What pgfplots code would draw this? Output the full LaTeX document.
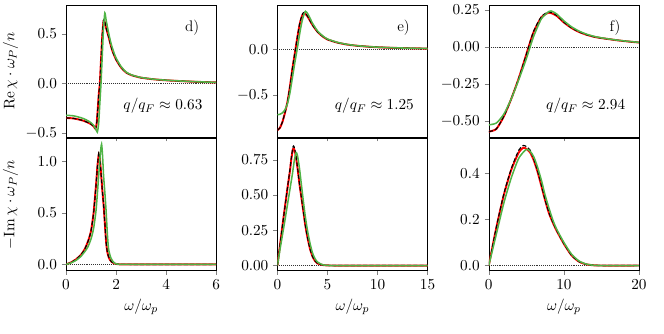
\documentclass[border=0pt]{standalone}
\usepackage{pgfplots}
\pgfplotsset{compat=1.18}
\usepgfplotslibrary{groupplots}
\usetikzlibrary{calc}

\definecolor{lgreen}{RGB}{80,180,70}

\pgfplotsset{
  zeroline/.style={black!80, densely dotted, line width=0.4pt, forget plot},
  redline/.style={red, line width=1.4pt, smooth, tension=0.4},
  blackline/.style={black, dashed, dash pattern=on 3pt off 1.5pt, line width=0.8pt, smooth, tension=0.4},
  greenline/.style={lgreen, line width=1.1pt, smooth, tension=0.4},
}

\begin{document}
\begin{tikzpicture}[font=\fontsize{11}{13}\selectfont]
\begin{groupplot}[
  group style={group size=3 by 2, horizontal sep=44pt, vertical sep=1pt, group name=G},
  scale only axis, width=108pt, height=95pt,
  tick align=outside, xtick pos=bottom, ytick pos=left,
  major tick length=3pt,
  tick label style={font=\fontsize{11}{13}\selectfont},
  label style={font=\fontsize{11}{13}\selectfont},
  yticklabel style={/pgf/number format/fixed, /pgf/number format/fixed zerofill, /pgf/number format/precision=1},
  ylabel style={at={(axis description cs:-0.37,0.5)}, anchor=center},
]

% ---- d) top
\nextgroupplot[xmin=0, xmax=6, ymin=-0.54, ymax=0.79, xtick={0,2,4,6}, xticklabels={},
  ytick={-0.5,0,0.5}, ylabel={$\mathrm{Re}\,\chi\cdot\omega_P/n$}]
\addplot[zeroline] coordinates {(0,0) (6,0)};
\addplot[redline] coordinates {(0,-0.347) (0.3,-0.352) (0.6,-0.368) (0.8,-0.385) (1.0,-0.41) (1.1,-0.43) (1.17,-0.455) (1.22,-0.41) (1.27,-0.25) (1.31,-0.1) (1.35,0.0) (1.4,0.25) (1.45,0.49) (1.5,0.63) (1.55,0.615) (1.6,0.56) (1.7,0.47) (1.75,0.42) (1.85,0.33) (2.0,0.24) (2.2,0.16) (2.4,0.11) (2.6,0.085) (2.8,0.07) (3.0,0.058) (3.5,0.042) (4.0,0.032) (4.5,0.025) (5.0,0.019) (5.5,0.014) (6,0.01)};
\addplot[blackline] coordinates {(0,-0.347) (0.3,-0.352) (0.6,-0.368) (0.8,-0.385) (1.0,-0.41) (1.1,-0.43) (1.17,-0.455) (1.22,-0.41) (1.27,-0.25) (1.31,-0.1) (1.35,0.0) (1.4,0.25) (1.45,0.5) (1.5,0.64) (1.55,0.62) (1.6,0.56) (1.7,0.47) (1.75,0.42) (1.85,0.33) (2.0,0.24) (2.2,0.16) (2.4,0.11) (2.6,0.085) (2.8,0.07) (3.0,0.058) (3.5,0.042) (4.0,0.032) (4.5,0.025) (5.0,0.019) (5.5,0.014) (6,0.01)};
\addplot[greenline] coordinates {(0,-0.32) (0.3,-0.326) (0.6,-0.345) (0.8,-0.365) (1.0,-0.395) (1.1,-0.42) (1.2,-0.465) (1.25,-0.49) (1.3,-0.41) (1.35,-0.2) (1.4,0.02) (1.45,0.3) (1.5,0.57) (1.55,0.71) (1.6,0.64) (1.7,0.51) (1.8,0.4) (1.9,0.32) (2.0,0.255) (2.2,0.17) (2.4,0.115) (2.6,0.088) (2.8,0.072) (3.0,0.06) (3.5,0.043) (4.0,0.033) (4.5,0.026) (5.0,0.02) (5.5,0.015) (6,0.011)};
\node at (rel axis cs:0.84,0.83) {d)};
\node at (rel axis cs:0.645,0.235) {$q/q_F\approx 0.63$};

% ---- e) top
\nextgroupplot[xmin=0, xmax=15, ymin=-0.967, ymax=0.49, xtick={0,5,10,15}, xticklabels={},
  ytick={-0.5,0}]
\addplot[zeroline] coordinates {(0,0) (15,0)};
\addplot[redline] coordinates {(0,-0.89) (0.25,-0.865) (0.5,-0.8) (0.75,-0.7) (1.0,-0.58) (1.25,-0.41) (1.5,-0.21) (1.8,0.0) (2.0,0.14) (2.25,0.29) (2.5,0.38) (2.7,0.40) (3.0,0.365) (3.5,0.27) (4.0,0.195) (4.5,0.145) (5,0.11) (6,0.075) (7,0.053) (8,0.04) (9,0.031) (10,0.024) (12,0.016) (15,0.009)};
\addplot[blackline] coordinates {(0,-0.89) (0.25,-0.865) (0.5,-0.8) (0.75,-0.7) (1.0,-0.58) (1.25,-0.41) (1.5,-0.21) (1.8,0.0) (2.0,0.14) (2.25,0.3) (2.5,0.39) (2.7,0.41) (3.0,0.37) (3.5,0.27) (4.0,0.195) (4.5,0.145) (5,0.11) (6,0.075) (7,0.053) (8,0.04) (9,0.031) (10,0.024) (12,0.016) (15,0.009)};
\addplot[greenline] coordinates {(0,-0.72) (0.25,-0.715) (0.5,-0.7) (0.75,-0.665) (1.0,-0.6) (1.25,-0.48) (1.5,-0.31) (1.75,-0.14) (2.0,0.02) (2.25,0.19) (2.5,0.33) (2.8,0.42) (3.1,0.38) (3.5,0.29) (4.0,0.205) (4.5,0.152) (5,0.115) (6,0.078) (7,0.055) (8,0.041) (9,0.032) (10,0.025) (12,0.017) (15,0.01)};
\node at (rel axis cs:0.84,0.83) {e)};
\node at (rel axis cs:0.645,0.235) {$q/q_F\approx 1.25$};

% ---- f) top
\nextgroupplot[xmin=0, xmax=20, ymin=-0.61, ymax=0.284, xtick={0,10,20}, xticklabels={},
  ytick={-0.5,-0.25,0,0.25},
  yticklabel style={/pgf/number format/precision=2}]
\addplot[zeroline] coordinates {(0,0) (20,0)};
\addplot[redline] coordinates {(0,-0.573) (1,-0.555) (2,-0.47) (3,-0.35) (4,-0.21) (5,-0.05) (5.3,0.0) (6,0.105) (7,0.2) (8,0.232) (9,0.212) (10,0.166) (11,0.129) (12,0.102) (13,0.083) (14,0.069) (15,0.06) (16,0.053) (17,0.046) (18,0.04) (19,0.035) (20,0.03)};
\addplot[blackline] coordinates {(0,-0.573) (1,-0.555) (2,-0.47) (3,-0.35) (4,-0.21) (5,-0.05) (5.3,0.0) (6,0.11) (7,0.205) (8,0.237) (9,0.215) (10,0.168) (11,0.13) (12,0.103) (13,0.083) (14,0.069) (15,0.06) (16,0.053) (17,0.046) (18,0.04) (19,0.035) (20,0.03)};
\addplot[greenline] coordinates {(0,-0.527) (1,-0.515) (2,-0.455) (3,-0.35) (4,-0.22) (5,-0.08) (5.5,0.0) (6,0.075) (7,0.19) (8,0.24) (8.3,0.244) (9,0.225) (10,0.177) (11,0.137) (12,0.108) (13,0.087) (14,0.072) (15,0.062) (16,0.054) (17,0.047) (18,0.041) (19,0.036) (20,0.031)};
\node at (rel axis cs:0.84,0.83) {f)};
\node at (rel axis cs:0.645,0.235) {$q/q_F\approx 2.94$};

% ---- d) bottom
\nextgroupplot[xmin=0, xmax=6, ymin=-0.06, ymax=1.225, xtick={0,2,4,6},
  ytick={0,0.5,1}, xlabel={$\omega/\omega_p$}, ylabel={$-\mathrm{Im}\,\chi\cdot\omega_P/n$}]
\addplot[zeroline] coordinates {(0,0) (6,0)};
\addplot[redline] coordinates {(0,0) (0.2,0.02) (0.4,0.05) (0.6,0.095) (0.75,0.15) (0.9,0.24) (1.0,0.33) (1.1,0.5) (1.2,0.78) (1.26,0.97) (1.31,1.07) (1.35,1.03) (1.4,0.88) (1.45,0.72) (1.5,0.58) (1.55,0.4) (1.6,0.22) (1.65,0.12) (1.72,0.06) (1.82,0.025) (1.95,0.008) (2.1,0.002) (2.5,0) (6,0)};
\addplot[blackline] coordinates {(0,0) (0.2,0.02) (0.4,0.05) (0.6,0.095) (0.75,0.15) (0.9,0.24) (1.0,0.33) (1.1,0.5) (1.2,0.78) (1.26,0.98) (1.31,1.09) (1.35,1.04) (1.4,0.88) (1.45,0.72) (1.5,0.58) (1.55,0.4) (1.6,0.22) (1.65,0.12) (1.72,0.06) (1.82,0.025) (1.95,0.008) (2.1,0.002) (2.5,0) (6,0)};
\addplot[greenline] coordinates {(0,0) (0.2,0.015) (0.4,0.04) (0.6,0.08) (0.85,0.16) (1.0,0.25) (1.1,0.35) (1.2,0.53) (1.3,0.85) (1.37,1.08) (1.42,1.17) (1.46,1.05) (1.5,0.86) (1.55,0.7) (1.6,0.52) (1.65,0.3) (1.7,0.15) (1.78,0.07) (1.87,0.03) (1.95,0.01) (2.1,0.002) (2.5,0) (6,0)};

% ---- e) bottom
\nextgroupplot[xmin=0, xmax=15, ymin=-0.036, ymax=0.90, xtick={0,5,10,15},
  ytick={0,0.25,0.5,0.75}, xlabel={$\omega/\omega_p$},
  yticklabel style={/pgf/number format/precision=2}]
\addplot[zeroline] coordinates {(0,0) (15,0)};
\addplot[redline] coordinates {(0,0) (0.25,0.14) (0.5,0.28) (0.75,0.415) (1.0,0.545) (1.25,0.67) (1.4,0.76) (1.55,0.825) (1.65,0.83) (1.8,0.79) (2.0,0.695) (2.2,0.58) (2.4,0.48) (2.6,0.38) (2.8,0.28) (3.0,0.2) (3.25,0.12) (3.5,0.065) (3.75,0.033) (4,0.015) (4.5,0.004) (5,0.001) (6,0) (15,0)};
\addplot[blackline] coordinates {(0,0) (0.25,0.14) (0.5,0.28) (0.75,0.415) (1.0,0.55) (1.25,0.68) (1.4,0.77) (1.55,0.84) (1.65,0.845) (1.8,0.8) (2.0,0.7) (2.2,0.58) (2.4,0.48) (2.6,0.38) (2.8,0.28) (3.0,0.2) (3.25,0.12) (3.5,0.065) (3.75,0.033) (4,0.015) (4.5,0.004) (5,0.001) (6,0) (15,0)};
\addplot[greenline] coordinates {(0,0) (0.25,0.11) (0.5,0.215) (0.75,0.32) (1.0,0.43) (1.25,0.54) (1.5,0.65) (1.7,0.75) (1.87,0.8) (2.0,0.78) (2.2,0.69) (2.4,0.57) (2.6,0.45) (2.8,0.34) (3.0,0.25) (3.25,0.16) (3.5,0.09) (3.75,0.05) (4,0.025) (4.5,0.006) (5,0.001) (6,0) (15,0)};

% ---- f) bottom
\nextgroupplot[xmin=0, xmax=20, ymin=-0.022, ymax=0.55, xtick={0,10,20},
  ytick={0,0.2,0.4}, xlabel={$\omega/\omega_p$}]
\addplot[zeroline] coordinates {(0,0) (20,0)};
\addplot[redline] coordinates {(0,0) (1,0.163) (2,0.305) (3,0.415) (4,0.49) (4.6,0.51) (5,0.505) (5.5,0.49) (6,0.455) (6.5,0.405) (7,0.345) (7.5,0.283) (8,0.228) (8.5,0.188) (9,0.153) (10,0.094) (11,0.045) (12,0.017) (13,0.005) (14,0.001) (15,0) (20,0)};
\addplot[blackline] coordinates {(0,0) (1,0.165) (2,0.31) (3,0.42) (4,0.5) (4.6,0.52) (5,0.515) (5.5,0.5) (6,0.46) (6.5,0.41) (7,0.35) (7.5,0.285) (8,0.23) (8.5,0.19) (9,0.155) (10,0.095) (11,0.045) (12,0.017) (13,0.005) (14,0.001) (15,0) (20,0)};
\addplot[greenline] coordinates {(0,0) (1,0.135) (2,0.27) (3,0.38) (4,0.465) (5,0.503) (5.5,0.495) (6,0.47) (6.5,0.425) (7,0.37) (7.5,0.305) (8,0.25) (8.5,0.2) (9,0.16) (10,0.1) (11,0.05) (12,0.02) (13,0.006) (14,0.001) (15,0) (20,0)};
\end{groupplot}
\pgfresetboundingbox
\useasboundingbox ($(G c1r1.north west)+(-47.5pt,3.6pt)$) rectangle ($(G c3r2.south east)+(18pt,-45pt)$);
\end{tikzpicture}
\end{document}
